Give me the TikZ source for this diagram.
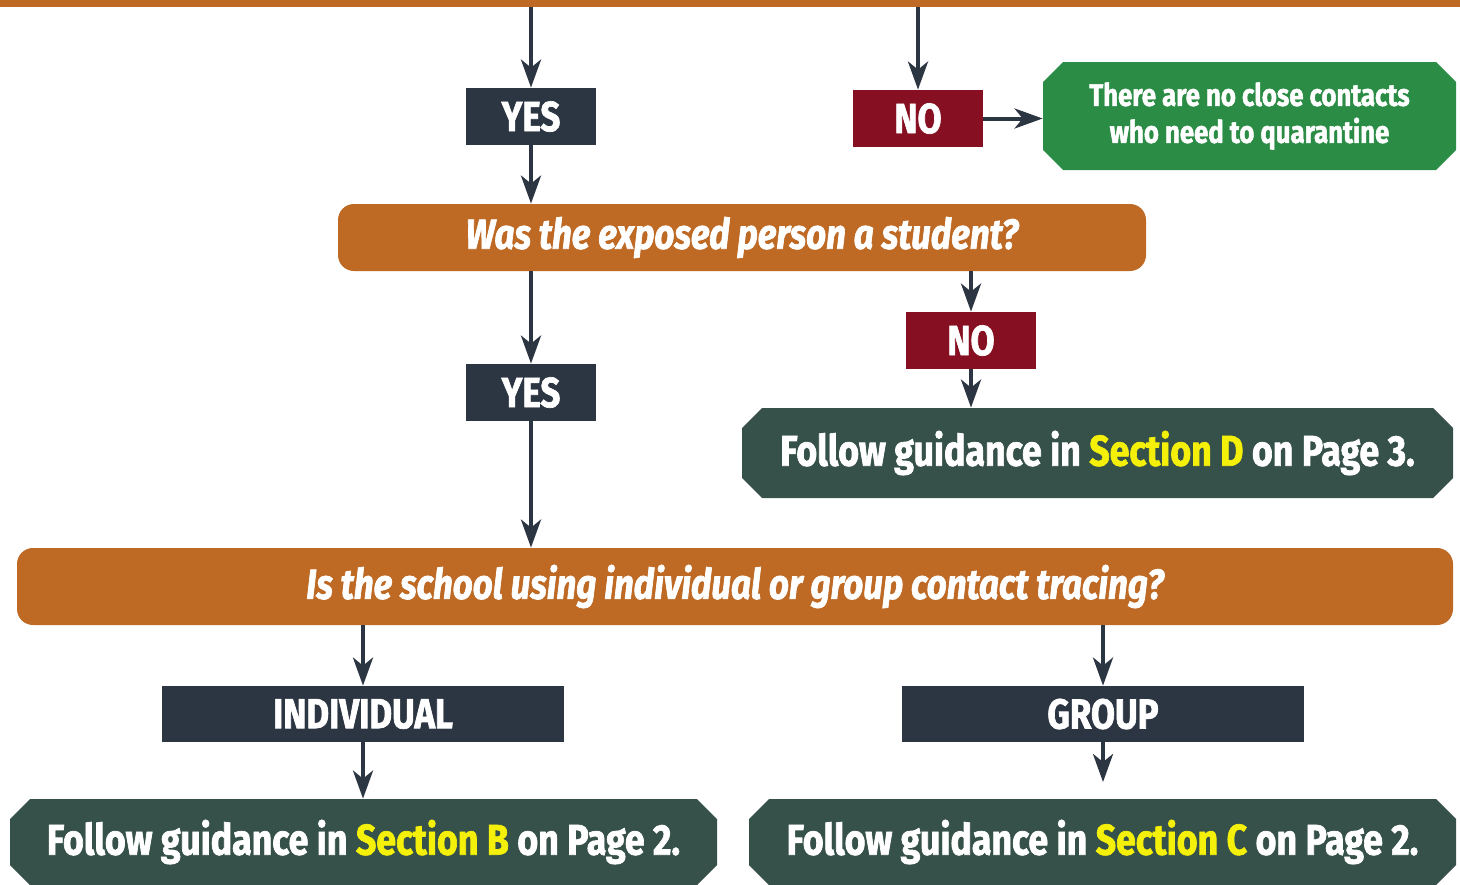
\documentclass[tikz,border=0pt]{standalone}
\usepackage{xcolor}
\usepackage{fontspec}
\setmainfont{Fira Sans}[FakeStretch=0.83, BoldFeatures={FakeBold=1.6}, BoldItalicFeatures={FakeBold=1.6}]
\usepackage{tikz}
\usetikzlibrary{shapes.misc, arrows.meta, positioning, calc}
\definecolor{flowOrange}{HTML}{BE6A25}
\definecolor{flowNavy}{HTML}{2C3542}
\definecolor{flowRed}{HTML}{870F22}
\definecolor{flowGreen}{HTML}{2B8C45}
\definecolor{flowSlate}{HTML}{36504A}
\definecolor{hilite}{HTML}{F5F00A}
\tikzstyle{answer} = [rectangle, minimum width=65pt, minimum height=28.5pt, inner sep=0pt, text centered, text=white, font=\bfseries\fontsize{21}{21}\selectfont]
\tikzstyle{yesbox} = [answer, fill=flowNavy]
\tikzstyle{nobox} = [answer, fill=flowRed]
\tikzstyle{question} = [rectangle, rounded corners=8pt, inner sep=0pt, text centered, fill=flowOrange, text=white, font=\bfseries\itshape\fontsize{21}{21}\selectfont]
\tikzstyle{outcome} = [chamfered rectangle, chamfered rectangle xsep=5pt, chamfered rectangle ysep=5pt, inner sep=0pt, text centered, fill=flowSlate, text=white, font=\bfseries\fontsize{21.5}{21.5}\selectfont]
\tikzstyle{arrow} = [line width=2pt, draw=flowNavy, -{Stealth[length=14pt, width=10pt, inset=4pt]}]

\begin{document}
\begin{tikzpicture}[x=0.5pt, y=-0.5pt]
    \useasboundingbox (0,0) rectangle (1460,884);
    \node (topbar) [rectangle, fill=flowOrange, inner sep=0pt, minimum width=730pt, minimum height=3.5pt] at (730,3.5) {};

    \node (yesA) [yesbox] at (531,116.5) {\raisebox{-1.5pt}{YES}};
    \node (noA) [nobox] at (918,118.5) {\raisebox{-1.5pt}{NO}};
    \node (nocontacts) [outcome, fill=flowGreen, minimum width=206.5pt, minimum height=54pt, align=center, font=\bfseries\fontsize{15.5}{18.5}\selectfont] at (1249.5,116) {There are no close contacts\\who need to quarantine};
    \node (student) [question, minimum width=404pt, minimum height=33.5pt] at (742,237.5) {\raisebox{-2.5pt}{Was the exposed person a student?}};
    \node (yesB) [yesbox] at (531,392.5) {\raisebox{-1.5pt}{YES}};
    \node (noB) [nobox] at (971,340.5) {\raisebox{-1.5pt}{NO}};
    \node (secD) [outcome, minimum width=355.5pt, minimum height=45pt] at (1097.5,453) {\raisebox{-2.5pt}{Follow guidance in \textcolor{hilite}{Section D} on Page 3.}};
    \node (tracing) [question, minimum width=718pt, minimum height=38.5pt] at (735,586.5) {\raisebox{-2pt}{Is the school using individual or group contact tracing?}};
    \node (indiv) [yesbox, minimum width=201pt, minimum height=28pt] at (363,714) {\raisebox{-1.5pt}{INDIVIDUAL}};
    \node (group) [yesbox, minimum width=201pt, minimum height=28pt] at (1103,714) {\raisebox{-1.5pt}{GROUP}};
    \node (secB) [outcome, minimum width=353.5pt, minimum height=43pt] at (363.5,842) {\raisebox{-3pt}{Follow guidance in \textcolor{hilite}{Section B} on Page 2.}};
    \node (secC) [outcome, minimum width=353.5pt, minimum height=43pt] at (1102.5,842) {\raisebox{-3pt}{Follow guidance in \textcolor{hilite}{Section C} on Page 2.}};

    \draw [arrow] (topbar.south -| yesA) -- (yesA);
    \draw [arrow] (yesA) -- (yesA |- student.north);
    \draw [arrow] (topbar.south -| noA) -- (noA);
    \draw [arrow] (noA) -- (noA -| nocontacts.west);
    \draw [arrow] (student.south -| yesB) -- (yesB);
    \draw [arrow] (yesB) -- (yesB |- tracing.north);
    \draw [arrow] (student.south -| noB) -- (noB);
    \draw [arrow] (noB) -- (noB |- secD.north);
    \draw [arrow] (tracing.south -| indiv) -- (indiv);
    \draw [arrow] (indiv) -- (indiv |- secB.north);
    \draw [arrow] (tracing.south -| group) -- (group);
    % group arrow stops short of the box
    \coordinate (groupend) at (1103,782);
    \draw [arrow] (group) -- (groupend);
\end{tikzpicture}
\end{document}
